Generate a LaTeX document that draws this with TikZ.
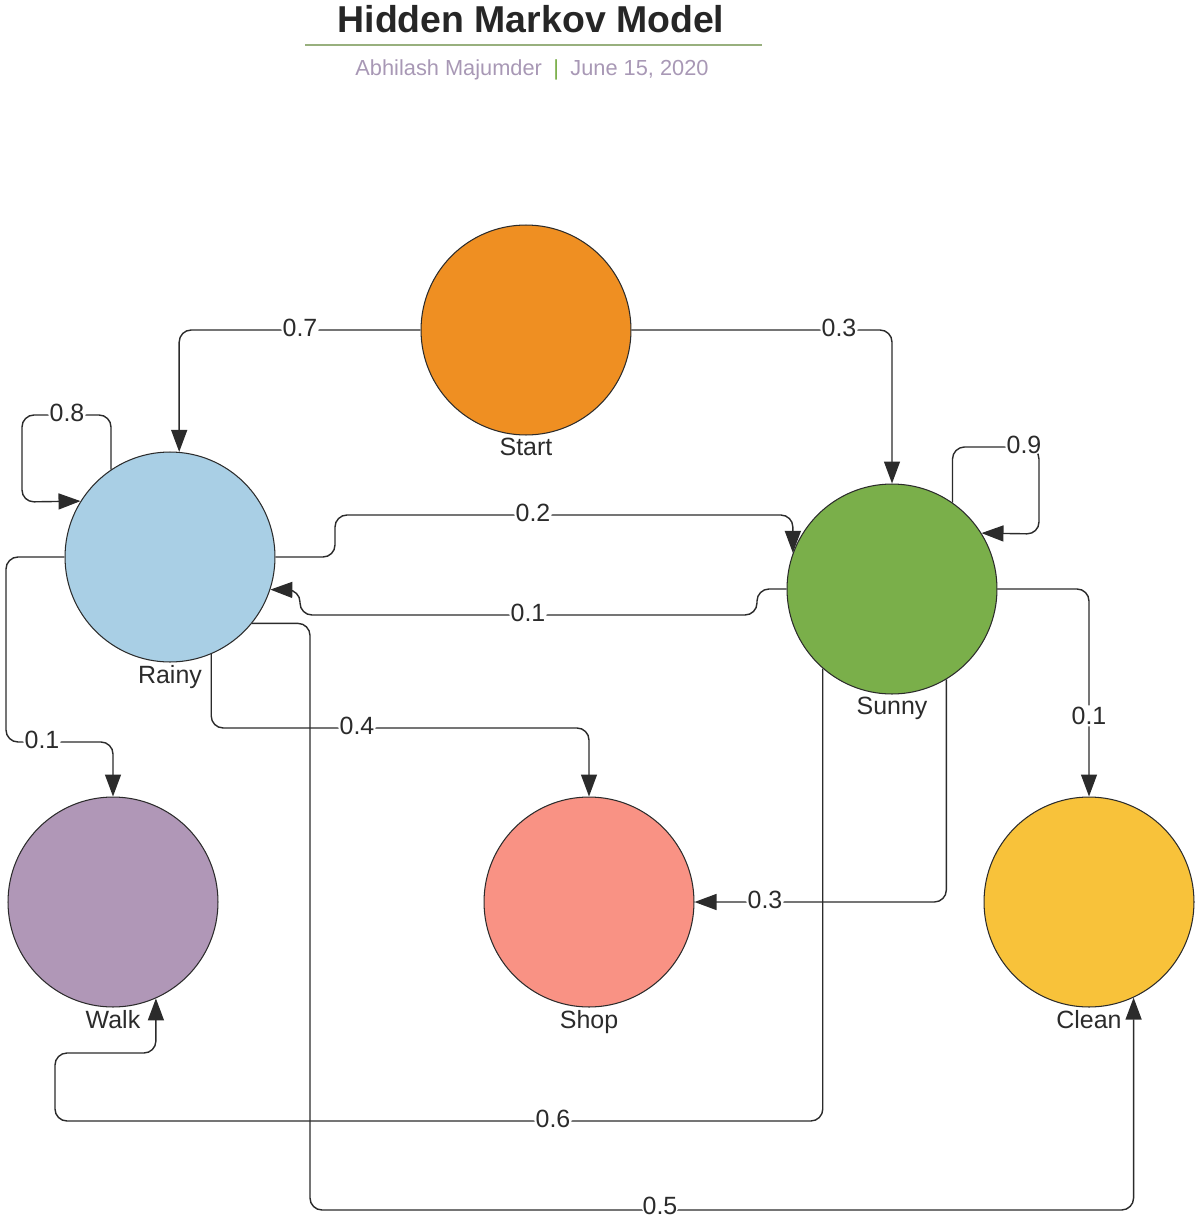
\documentclass[tikz,border=0pt]{standalone}
\usepackage{fontspec}
\setmainfont{Liberation Sans}
\usetikzlibrary{arrows.meta,positioning}
\definecolor{startorange}{HTML}{EF8F22}
\definecolor{rainyblue}{HTML}{A9CFE5}
\definecolor{sunnygreen}{HTML}{7AAF4A}
\definecolor{walkpurple}{HTML}{B097B7}
\definecolor{shoppink}{HTML}{F99284}
\definecolor{cleanyellow}{HTML}{F8C23A}
\definecolor{linegray}{HTML}{2B2B2B}
\definecolor{titlegray}{HTML}{262626}
\definecolor{subgray}{HTML}{A898B5}
\definecolor{rulegreen}{HTML}{98B07E}
\definecolor{bargreen}{HTML}{7AAF4A}
\begin{document}
\begin{tikzpicture}[x=0.02cm, y=-0.02cm,
	state/.style={circle, draw=linegray, line width=0.6pt, minimum size=4.2cm, inner sep=0pt},
	statename/.style={text=linegray, font=\fontsize{14.2}{17}\selectfont},
	trans/.style={draw=linegray, line width=0.8pt, rounded corners=0.24cm, -{Triangle[width=0.32cm, length=0.44cm]}},
	prob/.style={fill=white, inner sep=1pt, yshift=1pt, text=linegray, font=\fontsize{14.2}{17}\selectfont}]
	
	\useasboundingbox (0,0) rectangle (1200,1220);
	
	% 标题
	\node[anchor=base, text=titlegray, font=\fontsize{21.3}{26}\selectfont\bfseries] (title) at (531,33) {Hidden Markov Model};
	\draw[rulegreen, line width=1pt] (305,45) -- (762,45);
	\node[anchor=base, text=subgray, font=\fontsize{12.4}{15}\selectfont] (sub) at (532,76) {Abhilash Majumder\hspace{6.5pt}{\color{bargreen}|}\hspace{6.5pt}June 15, 2020};
	
	% 隐藏状态
	% states
	\node[state, fill=startorange] (start) at (526,330) {};
	\node[state, fill=rainyblue] (rainy) at (170,557) {};
	\node[state, fill=sunnygreen] (sunny) at (892,589) {};
	% 观测
	\node[state, fill=walkpurple] (walk) at (113,902) {};
	\node[state, fill=shoppink] (shop) at (589,902) {};
	\node[state, fill=cleanyellow] (clean) at (1089,902) {};
	% names
	\node[statename, below=-2pt of start] (startname) {Start};
	\node[statename, below=-2pt of rainy] (rainyname) {Rainy};
	\node[statename, below=-2pt of sunny] (sunnyname) {Sunny};
	\node[statename, below=-2pt of walk] (walkname) {Walk};
	\node[statename, below=-2pt of shop] (shopname) {Shop};
	\node[statename, below=-2pt of clean] (cleanname) {Clean};
	
	% 初始概率
	\draw[trans] (start.west) -- (300,330) node[prob] (p07) {0.7} -| (rainy.85);
	\draw[trans] (start.east) -- (839,330) node[prob] (p03) {0.3} -| (sunny.north);
	
	% 转移概率
	\draw[trans] (rainy.124) |- (67,415) node[prob] (p08) {0.8} -| (22,502) -- (rainy.148);
	\draw[trans] (sunny.55) |- (1024,447) node[prob] (p09) {0.9} -| (1039,534) -- (sunny.32);
	\draw[trans] (rainy.east) -- (335,557) -- (335,515) -- (533,515) node[prob] (p02) {0.2} -| (sunny.160);
	\draw[trans] (sunny.west) -- (757,589) -- (757,615) -- (528,615) node[prob] (p01) {0.1} -| (300,590) -- (rainy.342);
	
	% 发射概率
	\draw[trans] (rainy.west) -| (6,742) -- (42,742) node[prob] (pw1) {0.1} -| (walk.north);
	\draw[trans] (rainy.293) |- (357,728) node[prob] (ps4) {0.4} -| (shop.north);
	\draw[trans] (rainy.321) -| (310,1210) -- (660,1210) node[prob, yshift=1.5pt] (pc5) {0.5} -| (clean.295);
	\draw[trans] (sunny.229) |- (553,1121) node[prob] (pw6) {0.6} -| (55,1053) -| (walk.294);
	\draw[trans] (sunny.301) |- node[prob, pos=0.86] (ps3) {0.3} (shop.east);
	\draw[trans] (sunny.east) -| node[prob, pos=0.81] (pc1) {0.1} (clean.north);
	
\end{tikzpicture}
\end{document}
